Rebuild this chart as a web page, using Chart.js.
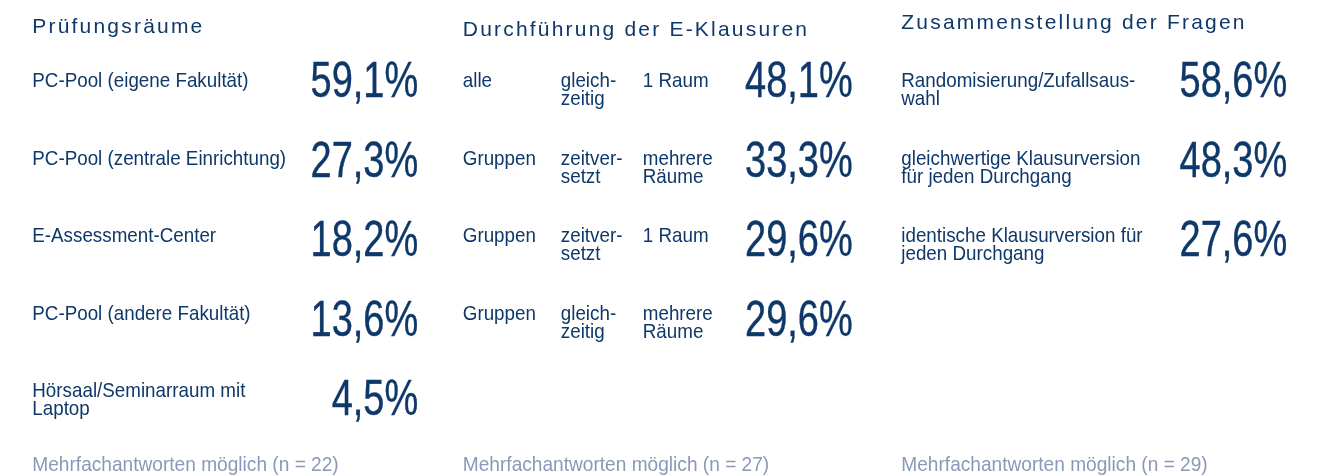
<!DOCTYPE html>
<html>
<head>
<meta charset="utf-8">
<script src="https://cdn.jsdelivr.net/npm/chart.js@4"></script>
<style>
  body { margin: 0; background: #fff; }
  canvas { display: block; }
</style>
</head>
<body>
<canvas id="c" width="1322" height="476"></canvas>
<script>
const panelTitles = ['Prüfungsräume', 'Durchführung der E-Klausuren', 'Zusammenstellung der Fragen'];
const panelNotes = ['Mehrfachantworten möglich (n = 22)', 'Mehrfachantworten möglich (n = 27)', 'Mehrfachantworten möglich (n = 29)'];

const roomLabels = [['PC-Pool (eigene Fakultät)'], ['PC-Pool (zentrale Einrichtung)'], ['E-Assessment-Center'], ['PC-Pool (andere Fakultät)'], ['Hörsaal/Seminarraum mit', 'Laptop']];
const roomValues = [59.1, 27.3, 18.2, 13.6, 4.5];

const modeWho = [['alle'], ['Gruppen'], ['Gruppen'], ['Gruppen']];
const modeTime = [['gleich-', 'zeitig'], ['zeitver-', 'setzt'], ['zeitver-', 'setzt'], ['gleich-', 'zeitig']];
const modeRooms = [['1 Raum'], ['mehrere', 'Räume'], ['1 Raum'], ['mehrere', 'Räume']];
const modeValues = [48.1, 33.3, 29.6, 29.6];

const questionLabels = [['Randomisierung/Zufallsaus-', 'wahl'], ['gleichwertige Klausurversion', 'für jeden Durchgang'], ['identische Klausurversion für', 'jeden Durchgang']];
const questionValues = [58.6, 48.3, 27.6];

// x offsets of the text columns from the right edge of the number
const columnOffsets = [[-386], [-390, -292, -210], [-386]];
const titleBaselines = [33, 36, 29];

const navy = '#0f386a';
const noteColor = '#8a99b7';
const bodyFont = '21px "Liberation Sans", Arial, sans-serif';

function points(panel, values) {
  return values.map((v, i) => ({ x: panel, y: i, v: v }));
}

function fmt(v) {
  return v.toFixed(1).replace('.', ',') + '%';
}

// no condensed face installed, so squeeze the regular one
function narrowText(ctx, text, x, y, sx) {
  ctx.save();
  ctx.translate(x, y);
  ctx.scale(sx, 1);
  ctx.fillText(text, 0, 0);
  ctx.restore();
}

const textPlugin = {
  id: 'panelText',
  afterDatasetsDraw(chart) {
    const ctx = chart.ctx;
    const xs = chart.scales.x;
    const ly = chart.scales.labelY;
    chart.data.datasets.forEach((ds, p) => {
      const meta = chart.getDatasetMeta(p);
      const right = xs.getPixelForValue(p);
      const offs = columnOffsets[p];

      // panel title
      ctx.save();
      ctx.font = '21px "Liberation Sans", Arial, sans-serif';
      ctx.letterSpacing = '2.2px';
      ctx.fillStyle = navy;
      ctx.textAlign = 'left';
      ctx.fillText(panelTitles[p], right + offs[0], titleBaselines[p]);
      ctx.restore();

      // footnote
      ctx.save();
      ctx.font = bodyFont;
      ctx.fillStyle = noteColor;
      ctx.textAlign = 'left';
      narrowText(ctx, panelNotes[p], right + offs[0], 471, 0.91);
      ctx.restore();

      meta.data.forEach((pt, i) => {
        // value
        ctx.save();
        ctx.font = '50px "Liberation Sans", Arial, sans-serif';
        ctx.fillStyle = navy;
        ctx.strokeStyle = navy;
        ctx.lineWidth = 0.4;
        ctx.textAlign = 'right';
        ctx.translate(pt.x, pt.y + 17.5);
        ctx.scale(0.76, 1);
        ctx.fillText(fmt(ds.data[i].v), 0, 0);
        ctx.strokeText(fmt(ds.data[i].v), 0, 0);
        ctx.restore();

        // labels
        const base = ly.getPixelForValue(i);
        ctx.save();
        ctx.font = bodyFont;
        ctx.fillStyle = navy;
        ctx.textAlign = 'left';
        ds.labelColumns.forEach((col, c) => {
          col[i].forEach((line, k) => {
            narrowText(ctx, line, right + offs[c], base + k * 18, 0.895);
          });
        });
        ctx.restore();
      });
    });
  }
};

new Chart(document.getElementById('c'), {
  type: 'scatter',
  data: {
    datasets: [
      { label: panelTitles[0], data: points(0, roomValues), labelColumns: [roomLabels], pointRadius: 0 },
      { label: panelTitles[1], data: points(1, modeValues), labelColumns: [modeWho, modeTime, modeRooms], pointRadius: 0 },
      { label: panelTitles[2], data: points(2, questionValues), labelColumns: [questionLabels], pointRadius: 0 }
    ]
  },
  options: {
    responsive: false,
    animation: false,
    devicePixelRatio: 1,
    layout: { padding: 0 },
    plugins: { legend: { display: false }, tooltip: { enabled: false } },
    events: [],
    scales: {
      x: { type: 'linear', display: false, min: -0.9627, max: 2.0799 },
      y: { type: 'linear', display: false, reverse: true, min: -1.0, max: 4.987 },
      labelY: { type: 'linear', axis: 'y', display: false, reverse: true, min: -1.131, max: 5.023 }
    }
  },
  plugins: [textPlugin]
});
</script>
</body>
</html>
